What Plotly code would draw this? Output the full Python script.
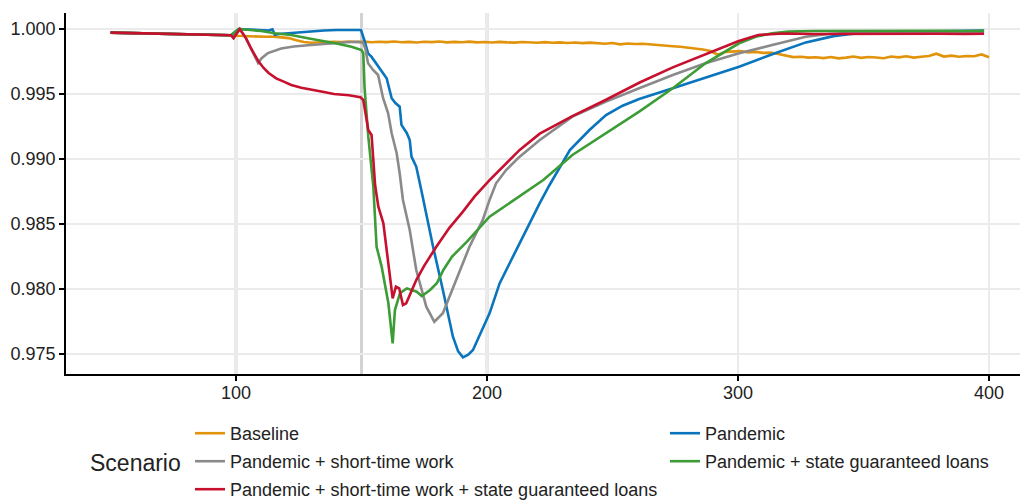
import plotly.graph_objects as go

# ---------------- data ----------------
# shared pre-shock segment (identical for every scenario)
pre_t = [50, 53, 56, 59, 62, 65, 68, 71, 74, 77, 80, 83, 86, 89, 92, 95, 98]
pre_v = [0.99972, 0.99971, 0.99968, 0.99969, 0.99966, 0.99967, 0.99964, 0.99965,
         0.99962, 0.99960, 0.99961, 0.99958, 0.99959, 0.99956, 0.99954, 0.99955, 0.99952]

baseline_t = list(range(100, 401, 3))
baseline_v = [
    0.99948, 0.99945, 0.99943, 0.99944, 0.99940, 0.99941, 0.99937, 0.99930, 0.99914, 0.99900,
    0.99894, 0.99897, 0.99900, 0.99902, 0.99900, 0.99904, 0.99900, 0.99903, 0.99898, 0.99902,
    0.99899, 0.99904, 0.99898, 0.99901, 0.99896, 0.99902, 0.99899, 0.99904, 0.99897, 0.99901,
    0.99898, 0.99903, 0.99897, 0.99900, 0.99896, 0.99901, 0.99897, 0.99895, 0.99900, 0.99896,
    0.99894, 0.99899, 0.99894, 0.99897, 0.99892, 0.99896, 0.99891, 0.99895, 0.99890, 0.99886,
    0.99892, 0.99882, 0.99888, 0.99884, 0.99887, 0.99881, 0.99878, 0.99874, 0.99867, 0.99863,
    0.99856, 0.99850, 0.99842, 0.99830, 0.99802, 0.99824, 0.99828, 0.99830, 0.99820, 0.99824,
    0.99816, 0.99818, 0.99808, 0.99794, 0.99784, 0.99787, 0.99780, 0.99783, 0.99776, 0.99784,
    0.99774, 0.99780, 0.99788, 0.99778, 0.99785, 0.99781, 0.99775, 0.99788, 0.99782, 0.99790,
    0.99780, 0.99786, 0.99792, 0.99810, 0.99788, 0.99795, 0.99786, 0.99792, 0.99790, 0.99804,
    0.99782]

pandemic_t = [101, 106, 110, 113, 114.5, 115.5, 117, 122, 128.6, 135,
              140, 149.8, 151.3, 152.6, 154, 156.6, 158, 160, 162, 163.5,
              165.2, 165.9, 168, 169.2, 169.9, 171.8, 173.8, 178.5, 182.4, 186.4,
              188.5, 190.4, 192.5, 194.4, 201, 205, 209, 216.9, 221, 224.9,
              233, 240.8, 247.4, 254, 260.6, 274, 287, 300.4, 313.6, 327,
              338, 345, 355, 370, 385, 398]
pandemic_v = [1.00000, 0.99995, 0.99990, 0.99988, 0.99998, 0.99955, 0.99962, 0.99970, 0.99979, 0.99988,
              0.99992, 0.99992, 0.99902, 0.99813, 0.99785, 0.99710, 0.99670, 0.99621, 0.99467, 0.99430,
              0.99402, 0.99262, 0.99200, 0.99146, 0.99018, 0.98941, 0.98762, 0.98325, 0.97992, 0.97633,
              0.97520, 0.97474, 0.97495, 0.97531, 0.97813, 0.98043, 0.98198, 0.98505, 0.98660, 0.98800,
              0.99069, 0.99223, 0.99338, 0.99410, 0.99462, 0.99545, 0.99625, 0.99710, 0.99805, 0.99897,
              0.99945, 0.99962, 0.99975, 0.99982, 0.99985, 0.99988]

stw_t = [99, 101.5, 104, 106, 108.8, 110.2, 112.7, 118, 123, 128.6,
         134, 139, 144, 148.5, 150.6, 151.5, 152.6, 154.6, 156.6, 158.6,
         160.6, 162, 164, 165.2, 165.9, 166.5, 169.2, 171.8, 175.8, 179,
         182.4, 187.7, 193, 198.3, 201, 203.6, 207.6, 213, 221, 234,
         247.4, 260.6, 274, 287, 300.4, 313.6, 327, 336, 345, 360,
         380, 398]
stw_v = [0.99930, 1.00000, 0.99928, 0.99850, 0.99738, 0.99775, 0.99815, 0.99850, 0.99865, 0.99875,
         0.99885, 0.99892, 0.99898, 0.99902, 0.99895, 0.99850, 0.99736, 0.99685, 0.99646, 0.99467,
         0.99351, 0.99198, 0.99044, 0.98890, 0.98762, 0.98685, 0.98454, 0.98146, 0.97864, 0.97748,
         0.97813, 0.98069, 0.98325, 0.98531, 0.98685, 0.98813, 0.98915, 0.99018, 0.99146, 0.99326,
         0.99441, 0.99544, 0.99646, 0.99736, 0.99813, 0.99877, 0.99941, 0.99962, 0.99970, 0.99973,
         0.99974, 0.99975]

sgl_t = [101, 106, 110, 115.5, 122, 128.6, 135, 140, 146, 150,
         150.7, 151.2, 152.7, 154.7, 156, 158, 160.7, 162.4, 163.3, 165.3,
         168, 172, 174, 177.3, 180, 182.6, 186, 192, 201, 211.6,
         222.4, 234, 247.4, 260.6, 274, 287, 300.4, 307, 313.6, 320,
         330, 340, 350, 360, 370, 380, 390, 398]
sgl_v = [1.00000, 0.99992, 0.99985, 0.99967, 0.99954, 0.99928, 0.99908, 0.99888, 0.99864, 0.99838,
         0.99813, 0.99550, 0.99172, 0.98787, 0.98325, 0.98172, 0.97890, 0.97582, 0.97838, 0.97967,
         0.98005, 0.97979, 0.97946, 0.97992, 0.98044, 0.98146, 0.98248, 0.98364, 0.98556, 0.98698,
         0.98838, 0.99031, 0.99198, 0.99364, 0.99544, 0.99736, 0.99890, 0.99940, 0.99967, 0.99980,
         0.99985, 0.99986, 0.99985, 0.99986, 0.99985, 0.99986, 0.99985, 0.99986]

stw_sgl_t = [99, 101.5, 104, 106, 109, 111, 113, 116, 119, 122,
             126, 130, 135, 139, 145, 149.5, 150.7, 152.7, 154, 155.4,
             156.7, 158.7, 160.7, 162.4, 163.7, 165, 166.5, 167.8, 171.8, 175,
             179.8, 185, 190.4, 195, 201, 205, 213, 221, 234, 247,
             261, 274, 287, 300, 308, 318, 330, 340, 350, 360,
             370, 380, 390, 398]
stw_sgl_v = [0.99930, 1.00000, 0.99928, 0.99850, 0.99749, 0.99700, 0.99662, 0.99620, 0.99595, 0.99569,
             0.99548, 0.99531, 0.99515, 0.99500, 0.99490, 0.99476, 0.99454, 0.99223, 0.99185, 0.98800,
             0.98633, 0.98505, 0.98198, 0.97928, 0.98018, 0.98005, 0.97877, 0.97890, 0.98069, 0.98180,
             0.98325, 0.98470, 0.98595, 0.98710, 0.98838, 0.98915, 0.99070, 0.99195, 0.99330, 0.99452,
             0.99590, 0.99705, 0.99804, 0.99905, 0.99954, 0.99965, 0.99962, 0.99963, 0.99961, 0.99963,
             0.99962, 0.99963, 0.99961, 0.99963]

scenario_names = ["Baseline", "Pandemic", "Pandemic + short-time work",
                  "Pandemic + state guaranteed loans",
                  "Pandemic + short-time work + state guaranteed loans"]
scenario_colors = ["#E1930B", "#0A74BC", "#8A8A8A", "#3C9C35", "#C6102E"]
scenario_legend = ["legend", "legend2", "legend", "legend2", "legend"]
series_t = [baseline_t, pandemic_t, stw_t, sgl_t, stw_sgl_t]
series_v = [baseline_v, pandemic_v, stw_v, sgl_v, stw_sgl_v]

event_lines = [100, 150, 200]
x_ticks = [100, 200, 300, 400]
y_ticks = [0.975, 0.980, 0.985, 0.990, 0.995, 1.000]

FONT = "Liberation Sans, Arial, sans-serif"
W, H = 1020, 494   # page body has an 8px margin in the 1028x502 window

fig = go.Figure()
for name, col, leg, t, v in zip(scenario_names, scenario_colors, scenario_legend, series_t, series_v):
    fig.add_trace(go.Scatter(
        x=pre_t + t, y=pre_v + v, mode="lines", name=name,
        line=dict(color=col, width=2.6), legend=leg, legendgroup=name,
    ))

for xv in event_lines:
    fig.add_vline(x=xv, line=dict(color="#D2D2D2", width=3), layer="below")

axis_common = dict(
    showline=True, linecolor="black", linewidth=1.8,
    ticks="outside", ticklen=5, tickwidth=1.5, tickcolor="black",
    tickfont=dict(family=FONT, size=18, color="#222222"),
    showgrid=True, gridcolor="#EBEBEB", gridwidth=1.5, zeroline=False,
    automargin=False,
)

legend_common = dict(xref="container", yref="container", y=1 - 407 / H,
                     xanchor="left", yanchor="top", orientation="v",
                     font=dict(family=FONT, size=18, color="#222222"),
                     tracegroupgap=1.6, bgcolor="rgba(0,0,0,0)", itemwidth=30)

plot_left, plot_top, plot_right, plot_bottom = 58, 5, 1018, 366

fig.update_layout(
    width=W, height=H,
    margin=dict(l=plot_left, r=W - plot_right, t=plot_top, b=H - plot_bottom, autoexpand=False),
    paper_bgcolor="white", plot_bgcolor="white",
    font=dict(family=FONT, size=18, color="#222222"),
    xaxis=dict(range=[32.27, 414.7], tickvals=x_ticks, **axis_common),
    yaxis=dict(range=[0.97346, 1.00123], tickvals=y_ticks, tickformat=".3f", **axis_common),
    showlegend=True,
    legend=dict(x=182 / W, **legend_common),
    legend2=dict(x=657 / W, **legend_common),
    annotations=[dict(text="Scenario", xref="paper", yref="paper",
                      x=(80 - plot_left) / (plot_right - plot_left),
                      y=(plot_bottom - 455) / (plot_bottom - plot_top),
                      xanchor="left", yanchor="middle", showarrow=False,
                      font=dict(family=FONT, size=23, color="#222222"))],
)

try:
    fig.update_xaxes(ticklabelstandoff=-4)
except (ValueError, TypeError):
    pass

fig.write_html("out.html")
